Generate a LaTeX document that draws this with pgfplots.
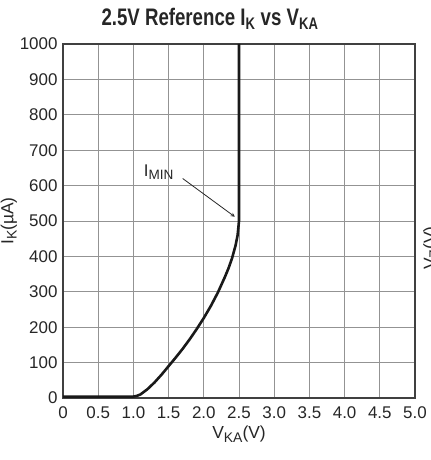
\documentclass[border=0pt]{standalone}
\usepackage{pgfplots}
\pgfplotsset{compat=1.18}
\usepackage{fontspec}
\setmainfont{Liberation Sans}
\newfontfamily\condfont[FakeStretch=0.78]{Liberation Sans}
\newcommand\sub[1]{\raisebox{-0.35ex}{\scalebox{0.8}{#1}}}
\begin{document}
\begin{tikzpicture}[x=1bp,y=1bp]
\useasboundingbox (0,0) rectangle (430,460);
\begin{axis}[
  at={(63bp,62bp)}, anchor=south west,
  scale only axis, width=352bp, height=354bp,
  xmin=0, xmax=5, ymin=0, ymax=1000,
  xtick={0,0.5,...,5}, ytick={0,100,...,1000},
  xticklabels={0,0.5,1.0,1.5,2.0,2.5,3.0,3.5,4.0,4.5,5.0},
  /pgf/number format/assume math mode=true,
  /pgf/number format/1000 sep={},
  ticklabel style={font=\fontsize{17}{19}\selectfont, text=black!85},
  xticklabel style={yshift=-5bp},
  yticklabel style={xshift=-2bp},
  major tick length=0pt,
  grid=major,
  major grid style={gray!85, line width=0.9bp},
  axis line style={black!75, line width=1.3bp},
  xlabel={V\sub{KA}(V)},
  ylabel={I\sub{K}(\textmu A)},
  label style={font=\fontsize{17.5}{19}\selectfont, text=black!85},
  xlabel style={yshift=-1bp},
  ylabel style={yshift=-4bp},
  clip=false,
]
\addplot[black!90, line width=2.6bp, line join=round] coordinates {
(0,4) (1.0,4) (1.05,6) (1.1,10) (1.2,25) (1.3,44) (1.4,66) (1.5,90)
(1.6,114) (1.7,139) (1.8,166) (1.9,195) (2.0,226) (2.1,260) (2.2,298)
(2.3,342) (2.35,366) (2.4,394) (2.45,430) (2.48,460) (2.5,500) (2.5,1000)
};
\draw[-stealth, black!85, line width=0.8bp] (axis cs:1.70,620) -- (axis cs:2.44,512);
\node[font=\fontsize{17}{19}\selectfont, text=black!85] at (axis cs:1.36,638) {I\sub{MIN}};
\end{axis}
\node[font=\condfont\bfseries\fontsize{24}{27}\selectfont, text=black!85] at (210,441)
  {2.5V Reference I\textsubscript{K} vs V\textsubscript{KA}};
\node[rotate=90, anchor=north, font=\fontsize{17.5}{19}\selectfont, text=black!85, inner sep=0pt] at (423,212) {V\sub{Z}(V)};
\end{tikzpicture}
\end{document}
